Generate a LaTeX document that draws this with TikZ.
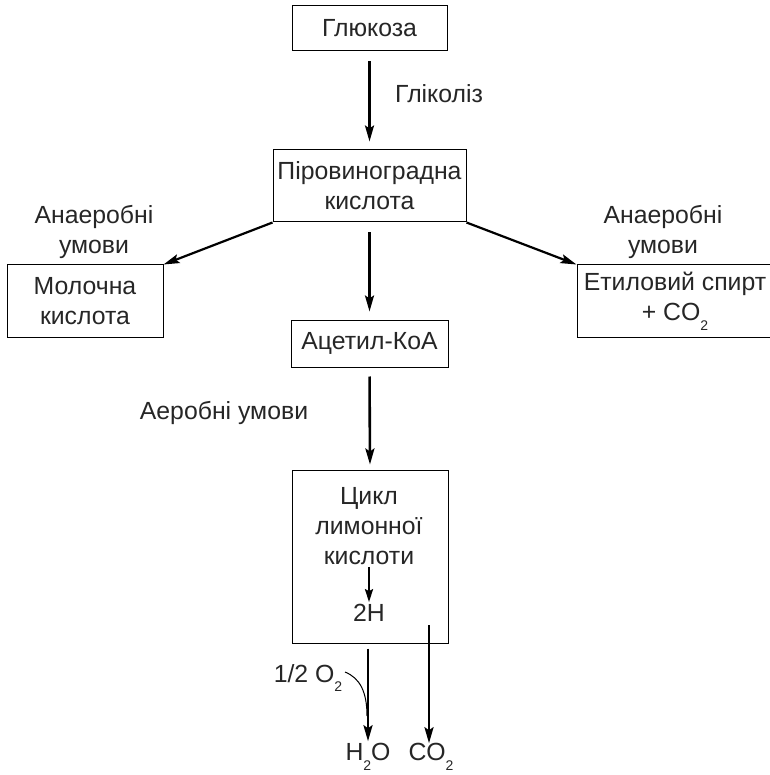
\documentclass[tikz,border=0pt]{standalone}
\usepackage{fontspec}
\setmainfont{Liberation Sans}
\usetikzlibrary{arrows.meta}
\newcommand\lowsub[1]{\raisebox{-0.75ex}{\fontsize{14}{14}\selectfont #1}}
\tikzset{
  txt/.style={font=\fontsize{24.8}{30}\selectfont, align=center, inner sep=0pt, text=black!85},
  box/.style={draw, line width=1pt, inner sep=0pt, txt},
  arr/.style={-{Stealth[length=16pt,width=9pt,inset=3pt]}, line width=2.6pt},
  thin/.style={line width=1pt}
}
\begin{document}
\begin{tikzpicture}[x=1pt,y=-1pt]
\useasboundingbox (0,0) rectangle (769,775);
% boxes
\node[box, minimum width=155pt, minimum height=45pt] (glu) at (369.5,28.5) {Глюкоза};
\node[box, minimum width=193pt, minimum height=72pt] (pyr) at (369.5,186) {Піровиноградна\\кислота};
\node[box, minimum width=156pt, minimum height=72pt] (mol) at (85,301) {Молочна\\кислота};
\node[box, minimum width=196pt, minimum height=72pt] (eth) at (675,301) {Етиловий спирт\\+ CO\lowsub{2}};
\node[box, minimum width=157pt, minimum height=47pt] (acet) at (369.5,343.5) {Ацетил-КоА};
\node[box, minimum width=156pt, minimum height=173pt] (cyc) at (370,556.5) {};
% texts
\node[txt, anchor=west] (glyc) at (395,94) {Гліколіз};
\node[txt] (anl) at (94,232) {Анаеробні\\умови};
\node[txt] (anr) at (663,232) {Анаеробні\\умови};
\node[txt] (aer) at (224,413) {Аеробні умови};
\node[txt] (cyct) at (369,526) {Цикл\\лимонної\\кислоти};
\node[txt] (twoh) at (369,613) {2Н};
\node[txt] (o2) at (308,678) {1/2 O\lowsub{2}};
\node[txt] (h2o) at (368,757) {H\lowsub{2}O};
\node[txt] (co2) at (431,757) {CO\lowsub{2}};
\coordinate (co2start) at (429,625);
% connectors
\draw[arr, shorten <=10pt, shorten >=8pt] (glu.south) -- (pyr.north);
\draw[arr, shorten <=10pt, shorten >=8pt] (pyr.south) -- (acet.north);
\draw[arr, shorten <=9pt, shorten >=5pt] (acet.south) -- (cyc.north);
\draw[arr, line width=2.2pt] (pyr.south west) -- (mol.north east);
\draw[arr, line width=2.2pt] (pyr.south east) -- (eth.north west);
\draw[arr, line width=2.2pt, -{Stealth[length=13pt,width=8pt,inset=2pt]}, shorten <=2pt, shorten >=2pt] (cyct.south -| twoh) -- (twoh.north);
\draw[arr] ([yshift=-5pt]cyc.south -| h2o) -- ([yshift=2pt]h2o.north);
\draw[arr] (co2start) -- (co2start |- h2o.north) ;
\draw[thin] (345,672) .. controls (360,678) and (367,692) .. (367,716);
\end{tikzpicture}
\end{document}
